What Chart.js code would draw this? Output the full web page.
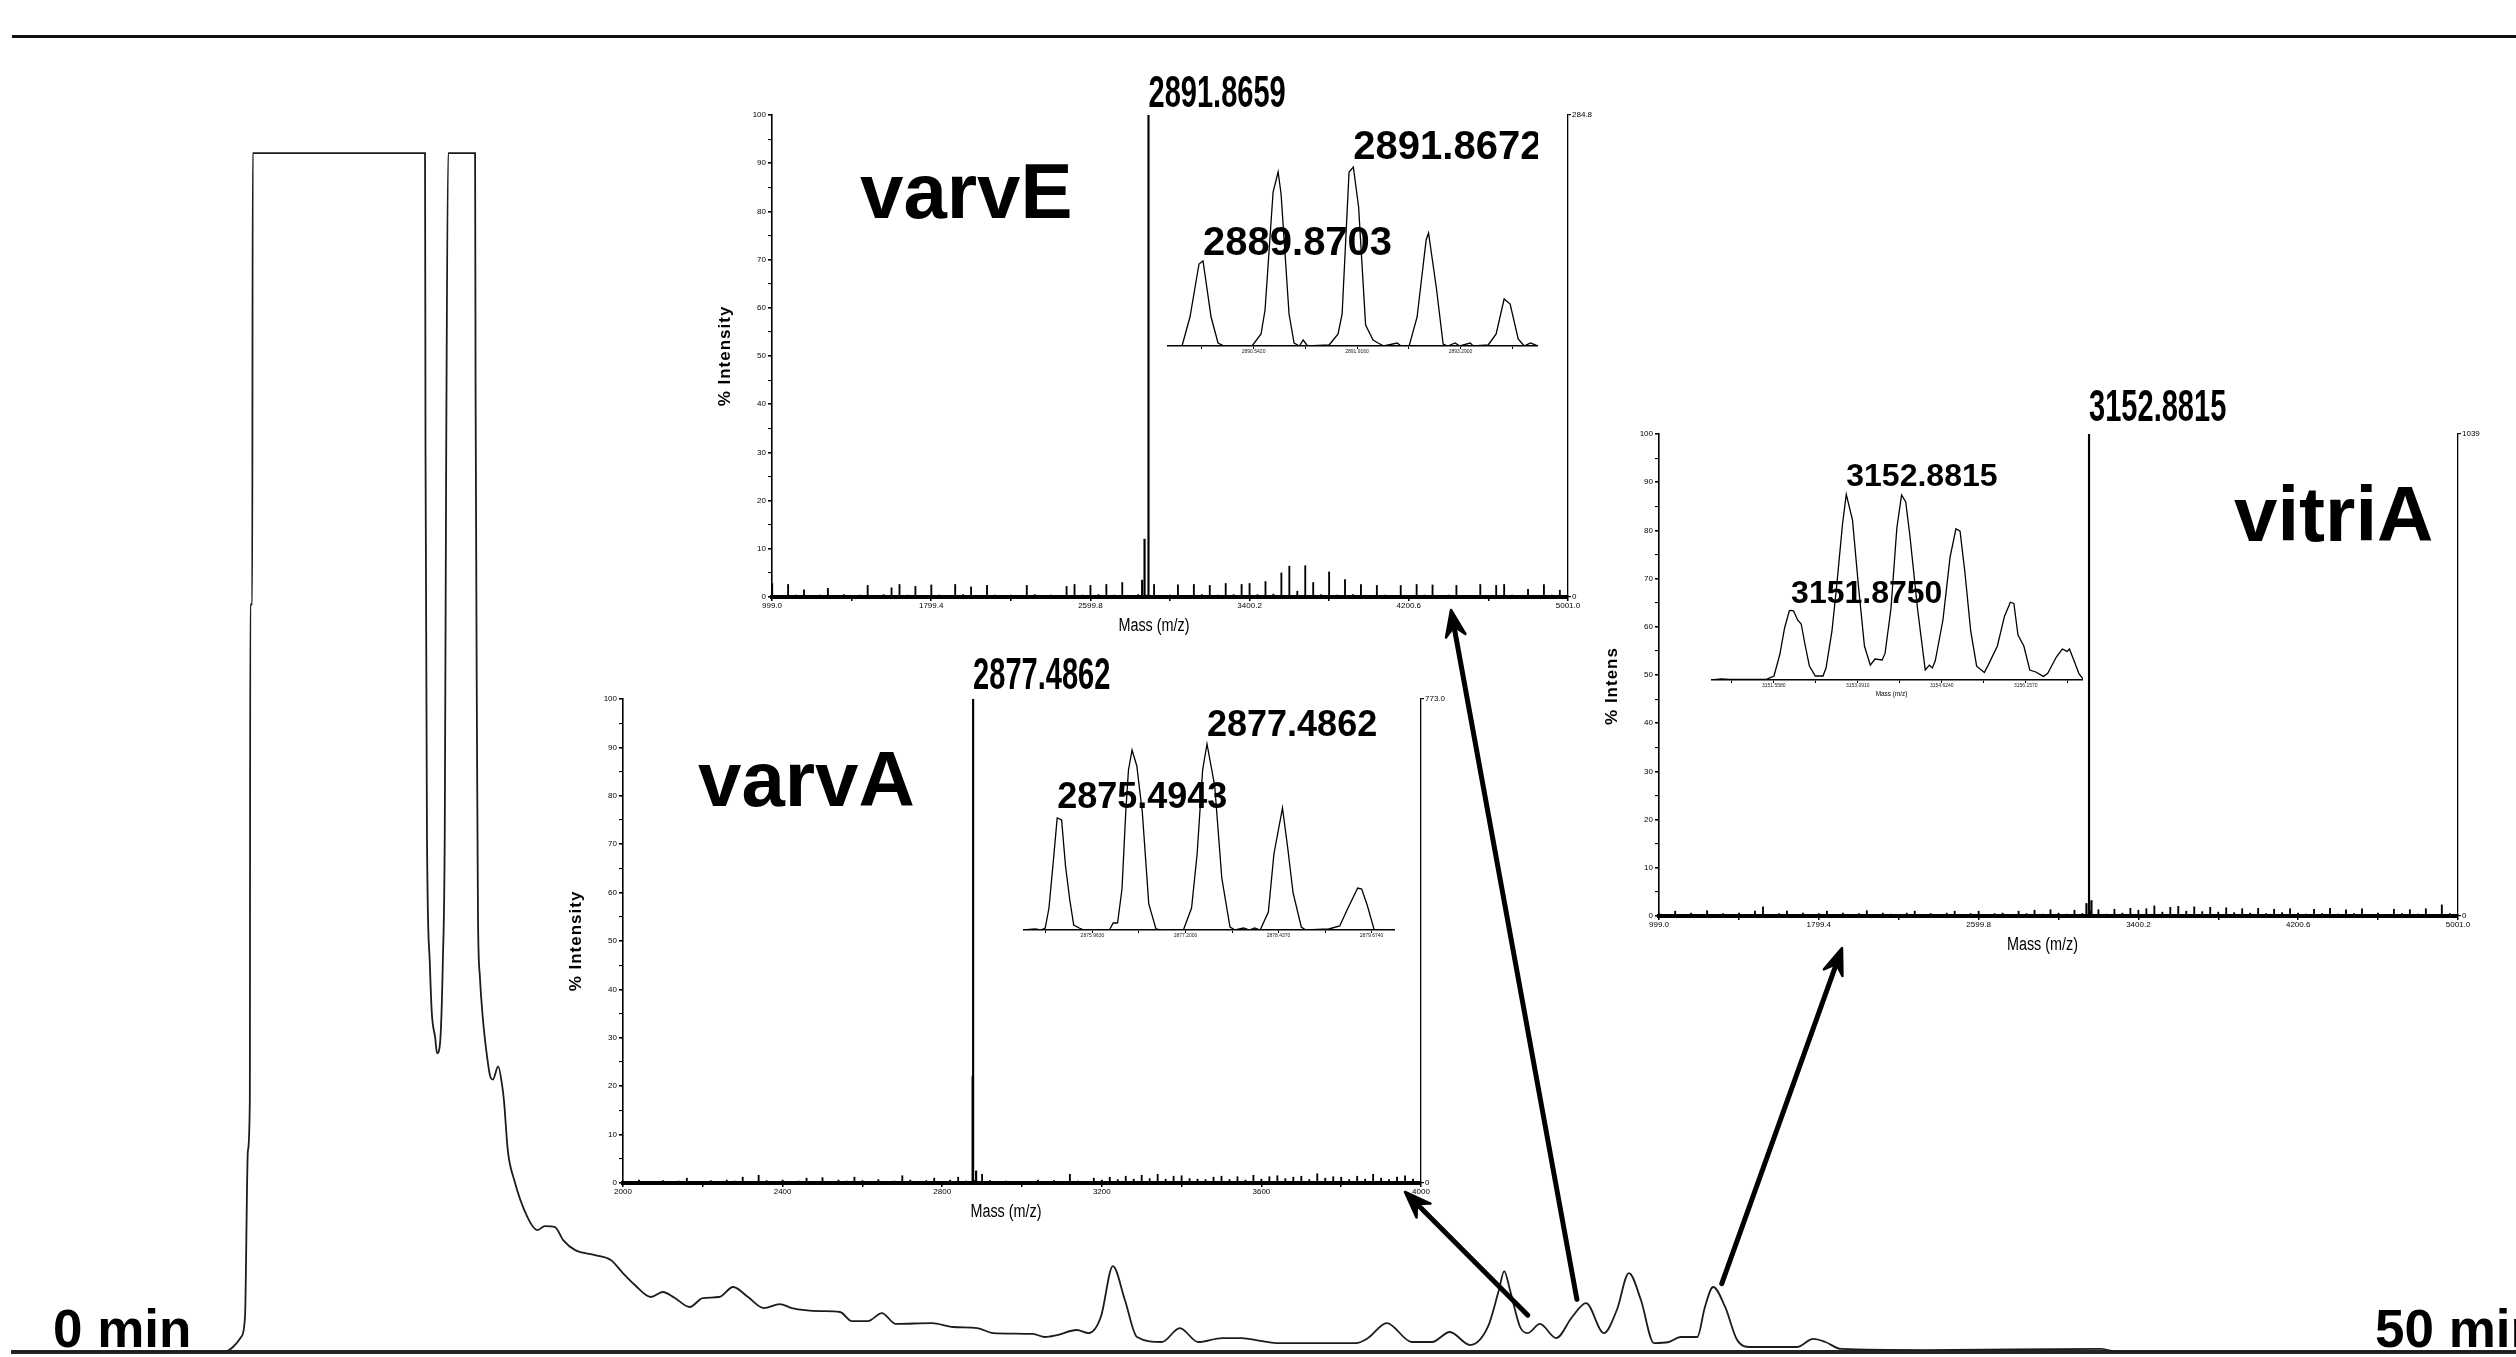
<!DOCTYPE html>
<html>
<head>
<meta charset="utf-8">
<title>HPLC trace with MALDI-TOF spectra of varvA, varvE and vitriA</title>
<script src="https://cdn.jsdelivr.net/npm/chart.js@4.4.1/dist/chart.umd.min.js"></script>
<style>
  html, body { margin: 0; padding: 0; background: #fff; overflow: hidden; }
  #stage { position: relative; width: 2516px; height: 1357px; overflow: hidden; background: #fff; }
  #stage canvas { position: absolute; }
</style>
</head>
<body>
<div id="stage"></div>
<script>
// ---------------- Chromatogram: retention time (min) / signal (% of full scale) ----------------
const chromTime = [0, 4.40, 4.57, 4.74, 4.82, 4.88, 4.92, 4.93, 4.97, 4.98,
  8.56, 8.57, 8.60, 8.66, 8.70, 8.77, 8.81, 8.87, 8.93, 8.97,
  9.00, 9.04, 9.60, 9.61, 9.64, 9.66, 9.70, 9.76, 9.85, 9.91,
  9.97, 10.08, 10.16, 10.20, 10.28, 10.41, 10.68, 10.89, 11.05, 11.26,
  11.43, 11.68, 12.09, 12.42, 12.67, 12.92, 13.25, 13.50, 13.75, 14.06,
  14.33, 14.67, 14.96, 15.27, 15.60, 15.93, 16.18, 16.77, 17.18, 17.43,
  17.76, 18.05, 18.34, 19.09, 19.53, 20.03, 20.36, 21.19, 21.44, 21.69,
  22.10, 22.35, 22.60, 22.85, 23.10, 23.35, 23.87, 24.24, 24.62, 25.12,
  25.53, 25.91, 26.24, 27.90, 28.15, 28.54, 29.06, 29.48, 29.85, 30.27,
  30.64, 30.87, 30.98, 31.10, 31.31, 31.47, 31.72, 32.06, 32.39, 32.68,
  33.05, 33.32, 33.57, 33.82, 34.09, 34.40, 34.65, 34.99, 35.15, 35.32,
  35.57, 35.82, 36.09, 37.06, 37.40, 37.65, 37.98, 39.72, 43.38, 43.71,
  52];
const chromSignal = [0, 0, 0.38, 1.14, 2.66, 15.3, 19.1, 56.8, 56.8, 91.1,
  91.1, 68.4, 39.4, 29.5, 25.8, 23.9, 22.7, 23.4, 29.7, 39.6,
  68.4, 91.1, 91.1, 73.0, 46.2, 33.1, 28.5, 25.4, 22.4, 21.0,
  20.7, 21.7, 20.3, 19.1, 15.3, 13.1, 10.3, 9.26, 9.57, 9.49,
  8.50, 7.74, 7.37, 6.99, 6.00, 5.09, 4.18, 4.56, 4.10, 3.42,
  4.10, 4.18, 4.94, 4.18, 3.34, 3.64, 3.34, 3.11, 3.04, 2.35,
  2.35, 2.96, 2.13, 2.20, 1.90, 1.82, 1.44, 1.37, 1.14, 1.29,
  1.67, 1.44, 2.66, 6.53, 3.95, 1.14, 0.76, 1.82, 0.76, 1.06,
  1.06, 0.84, 0.68, 0.68, 1.06, 2.20, 0.76, 0.76, 1.52, 0.53,
  1.90, 4.71, 6.15, 4.71, 1.90, 1.44, 2.13, 1.06, 2.66, 3.72,
  1.44, 3.19, 6.00, 3.95, 0.68, 0.76, 1.14, 1.14, 3.42, 4.94,
  3.42, 0.91, 0.38, 0.38, 0.99, 0.76, 0.23, 0.15, 0.23, 0,
  0];
const timeLabels = ['0 min', '50 min'];

// ---------------- Mass axes ----------------
const wideMassTicks = [999.0, 1399.2, 1799.4, 2199.6, 2599.8, 3000.0, 3400.2, 3800.4, 4200.6, 4600.8, 5001.0];
const varvAMassTicks = [2000, 2200, 2400, 2600, 2800, 3000, 3200, 3400, 3600, 3800, 4000];

// ---------------- varvE spectrum ----------------
const varvENoiseStart = 1000, varvENoiseStep = 40;
const varvENoise = [2.8, 0.3, 2.6, 0.4, 1.5, 0.2, 0.4, 1.8, 0.3, 0.5,
  0.3, 0.4, 2.4, 0.3, 0.5, 1.9, 2.6, 0.4, 2.2, 0.3,
  2.5, 0.4, 0.3, 2.6, 0.5, 2.1, 0.3, 2.4, 0.4, 0.3,
  0.4, 0.3, 2.4, 0.5, 0.3, 0.4, 0.3, 2.2, 2.6, 0.4,
  2.4, 0.5, 2.6, 0.4, 3.0, 0.3, 0.5, 0.4, 2.6, 0.3,
  0.4, 2.5, 0.3, 2.6, 0.5, 2.4, 0.4, 2.8, 0.5, 2.6,
  2.8, 0.5, 3.2, 0.6, 5.0, 6.4, 1.2, 6.5, 3.0, 0.5,
  5.2, 0.4, 3.6, 0.5, 2.6, 0.3, 2.4, 0.4, 0.3, 2.4,
  0.3, 2.6, 0.4, 2.5, 0.3, 0.4, 2.4, 0.3, 0.2, 2.6,
  0.3, 2.4, 2.6, 0.4, 0.3, 1.6, 0.3, 2.6, 0.4, 1.4];
const varvEPeakMz = [2860, 2872, 2891.8659];
const varvEPeakInt = [3.5, 12, 100];
const varvEIsoMz = [2889.405, 2889.591, 2889.697, 2889.817, 2889.8703, 2889.977, 2890.070, 2890.150, 2890.522, 2890.641,
  2890.694, 2890.801, 2890.868, 2890.907, 2891.013, 2891.080, 2891.150, 2891.200, 2891.260, 2891.545,
  2891.664, 2891.718, 2891.810, 2891.8672, 2891.937, 2892.030, 2892.129, 2892.196, 2892.270, 2892.450,
  2892.500, 2892.608, 2892.714, 2892.834, 2892.866, 2892.970, 2893.060, 2893.120, 2893.220, 2893.280,
  2893.420, 2893.460, 2893.658, 2893.764, 2893.870, 2893.950, 2894.057, 2894.137, 2894.220, 2894.320];
const varvEIsoInt = [0, 0, 14.5, 41, 42.5, 14.5, 1.5, 0, 0, 6,
  18, 77, 87, 76, 16, 1.5, 0, 3, 0, 0.5,
  6, 16, 87, 89.5, 69.5, 10.5, 3, 1.5, 0, 1.5,
  0, 0, 14.5, 53, 56.5, 29, 1, 0, 1.5, 0,
  1.5, 0, 0.5, 6, 23.5, 21, 3.5, 0, 1.5, 0];
const varvEIsoTicks = [2889.855, 2890.542, 2891.229, 2891.916, 2892.603, 2893.290, 2893.977];
const varvEIsoLabels = ['2891.8672', '2889.8703'];

// ---------------- varvA spectrum ----------------
const varvANoiseStart = 2000, varvANoiseStep = 20;
const varvANoise = [0.4, 0.2, 0.6, 0.2, 0.3, 0.5, 0.2, 0.4, 1.0, 0.3,
  0.2, 0.5, 0.3, 0.6, 0.4, 1.2, 0.3, 1.6, 0.5, 0.3,
  0.6, 0.2, 0.4, 1.0, 0.3, 1.1, 0.2, 0.6, 0.4, 1.2,
  0.5, 0.3, 0.7, 0.2, 0.4, 1.5, 0.6, 0.3, 0.5, 1.0,
  0.3, 0.6, 1.2, 0.4, 0.5, 1.8, 0.5, 0.2, 0.4, 0.3,
  0.3, 0.2, 0.6, 0.3, 0.5, 0.2, 1.8, 0.4, 0.2, 1.0,
  0.6, 1.2, 0.7, 1.4, 0.8, 1.6, 0.9, 1.8, 0.8, 1.4,
  1.5, 0.9, 0.8, 0.7, 1.2, 1.4, 0.7, 1.3, 0.6, 1.6,
  0.8, 1.3, 1.5, 0.9, 1.2, 1.4, 0.7, 1.9, 1.0, 1.3,
  1.2, 0.7, 1.4, 0.8, 1.8, 1.0, 0.7, 1.2, 1.5, 0.8];
const varvAPeakMz = [2876.2, 2877.4862, 2885];
const varvAPeakInt = [22, 100, 2.5];
const varvAIsoMz = [2875.053, 2875.200, 2875.276, 2875.335, 2875.385, 2875.437, 2875.4943, 2875.553, 2875.605, 2875.662,
  2875.714, 2875.787, 2875.850, 2876.188, 2876.239, 2876.297, 2876.356, 2876.406, 2876.442, 2876.490,
  2876.553, 2876.626, 2876.712, 2876.808, 2876.870, 2877.172, 2877.281, 2877.355, 2877.428, 2877.4862,
  2877.589, 2877.683, 2877.792, 2877.860, 2877.974, 2878.050, 2878.120, 2878.193, 2878.302, 2878.376,
  2878.490, 2878.558, 2878.631, 2878.740, 2878.800, 2879.106, 2879.251, 2879.361, 2879.490, 2879.543,
  2879.616, 2879.710, 2879.986];
const varvAIsoInt = [0, 0.5, 0, 1, 11, 32, 56, 55, 32, 15,
  2.5, 1, 0, 0, 3.5, 3.5, 20.5, 59, 80, 90,
  82, 59, 13, 0.5, 0, 0, 11, 38, 80, 93,
  72, 26, 1.5, 0, 1, 0, 1, 0, 9, 38,
  61, 41.5, 18.5, 1.5, 0, 0.5, 2, 11, 21, 20.5,
  12.5, 0, 0];
const varvAIsoTicks = [2875.345, 2875.963, 2876.582, 2877.200, 2877.819, 2878.437, 2879.056, 2879.674];
const varvAIsoLabels = ['2877.4862', '2875.4943'];

// ---------------- vitriA spectrum ----------------
const vitriANoiseStart = 1000, vitriANoiseStep = 40;
const vitriANoise = [0.5, 0.2, 1.0, 0.3, 0.6, 0.2, 1.1, 0.3, 0.5, 0.2,
  0.6, 0.3, 1.0, 1.9, 0.3, 0.5, 1.0, 0.2, 0.6, 0.3,
  0.5, 1.0, 0.3, 0.6, 0.2, 0.5, 1.1, 0.3, 0.6, 0.4,
  0.3, 0.6, 1.0, 0.3, 0.5, 0.2, 0.6, 1.0, 0.3, 0.5,
  1.0, 0.3, 0.5, 0.6, 0.2, 1.0, 0.5, 1.2, 0.4, 1.3,
  0.6, 0.4, 1.2, 0.5, 1.1, 1.3, 0.4, 1.4, 0.6, 1.6,
  1.2, 1.5, 2.1, 0.8, 1.8, 2.0, 1.0, 1.9, 0.9, 1.8,
  0.8, 1.7, 0.7, 1.5, 0.6, 1.6, 0.5, 1.4, 0.7, 1.5,
  0.6, 0.4, 1.4, 0.5, 1.6, 0.4, 1.3, 0.5, 1.5, 0.3,
  0.6, 0.3, 1.4, 0.5, 1.3, 0.4, 1.5, 0.3, 2.3, 0.5];
const vitriAPeakMz = [3140, 3152.8815, 3165];
const vitriAPeakInt = [2.6, 100, 3.2];
const vitriAIsoMz = [3150.432, 3150.600, 3150.750, 3150.895, 3151.110, 3151.433, 3151.563, 3151.671, 3151.756, 3151.842,
  3151.875, 3151.919, 3151.994, 3152.059, 3152.134, 3152.209, 3152.317, 3152.457, 3152.512, 3152.620,
  3152.705, 3152.813, 3152.8815, 3152.995, 3153.105, 3153.213, 3153.320, 3153.406, 3153.536, 3153.589,
  3153.696, 3153.804, 3153.891, 3153.966, 3154.041, 3154.182, 3154.322, 3154.397, 3154.452, 3154.505,
  3154.645, 3154.775, 3154.882, 3154.957, 3155.045, 3155.152, 3155.260, 3155.401, 3155.475, 3155.638,
  3155.767, 3155.875, 3155.939, 3156.014, 3156.121, 3156.229, 3156.339, 3156.477, 3156.554, 3156.714,
  3156.822, 3156.910, 3156.952, 3157.037, 3157.125, 3157.200];
const vitriAIsoInt = [0, 0.5, 0.3, 0.3, 0.3, 0.4, 2, 13, 26, 34.6,
  34.8, 34.6, 30, 28, 17, 7, 2, 2, 6, 24.4,
  46.6, 78, 92.8, 80, 46.6, 17, 7.4, 10.5, 10, 13.3,
  35.5, 76, 92.5, 89, 72.5, 35.5, 5, 7.4, 6, 9.6,
  30, 61.4, 75.6, 74.4, 54, 24.4, 6.9, 3.7, 7.7, 17,
  31.8, 38.9, 38.3, 22.5, 17, 5, 4, 1.8, 3.2, 11.5,
  15.5, 14.3, 15.5, 9.6, 3.2, 0.6];
const vitriAIsoTicks = [3150.791, 3151.558, 3152.324, 3153.091, 3153.857, 3154.624, 3155.390, 3156.157, 3156.923];
const vitriAIsoLabels = ['3152.8815', '3151.8750'];

// ---------------- drawing helpers ----------------
const FONT = '"Liberation Sans", Arial, Helvetica, sans-serif';
const NARROW = '"Liberation Sans Narrow", "Arial Narrow", "Liberation Sans", Arial, sans-serif';
const stage = document.getElementById('stage');

function addCanvas(left, top, width, height) {
  const c = document.createElement('canvas');
  c.width = width; c.height = height;
  c.style.left = left + 'px'; c.style.top = top + 'px';
  c.style.width = width + 'px'; c.style.height = height + 'px';
  stage.appendChild(c);
  return c;
}

// condensed text: regular face squeezed horizontally
function squeezedText(ctx, text, x, y, size, weight, squeeze, align) {
  ctx.save();
  ctx.translate(x, y);
  ctx.scale(squeeze, 1);
  ctx.font = weight + ' ' + size + 'px ' + FONT;
  ctx.textAlign = align || 'left';
  ctx.textBaseline = 'alphabetic';
  ctx.fillText(text, 0, 0);
  ctx.restore();
}

function drawArrow(ctx, x1, y1, x2, y2) {
  const ang = Math.atan2(y2 - y1, x2 - x1);
  const len = 28, spread = 0.36;
  ctx.save();
  ctx.strokeStyle = '#000'; ctx.fillStyle = '#000';
  ctx.lineWidth = 5; ctx.lineCap = 'round';
  ctx.beginPath();
  ctx.moveTo(x1, y1);
  ctx.lineTo(x2 - Math.cos(ang) * 12, y2 - Math.sin(ang) * 12);
  ctx.stroke();
  ctx.beginPath();
  ctx.moveTo(x2, y2);
  ctx.lineTo(x2 - len * Math.cos(ang - spread), y2 - len * Math.sin(ang - spread));
  ctx.lineTo(x2 - len * 0.6 * Math.cos(ang), y2 - len * 0.6 * Math.sin(ang));
  ctx.lineTo(x2 - len * Math.cos(ang + spread), y2 - len * Math.sin(ang + spread));
  ctx.closePath();
  ctx.fill();
  ctx.lineWidth = 2.5; ctx.lineJoin = 'round';
  ctx.stroke();
  ctx.restore();
}

const baseOptions = {
  responsive: false, animation: false, devicePixelRatio: 1, events: [],
  plugins: { legend: { display: false }, tooltip: { enabled: false } }
};

// ---------------- chromatogram ----------------
// arrows from the eluting peaks to the spectra that were recorded for them
const arrowLinks = [
  { time: 31.47, signal: 2.8, tip: [1405, 1192] },
  { time: 32.49, signal: 4.0, tip: [1451, 610] },
  { time: 35.50, signal: 5.2, tip: [1842, 948] }
];

new Chart(addCanvas(0, 0, 2516, 1357), {
  type: 'line',
  data: {
    datasets: [{
      data: chromTime.map((t, i) => ({ x: t, y: chromSignal[i] })),
      borderColor: '#1c1c1c', borderWidth: 1.8, pointRadius: 0,
      cubicInterpolationMode: 'monotone', fill: false
    }]
  },
  options: Object.assign({}, baseOptions, {
    layout: { padding: { left: 13, right: 0, top: 36, bottom: 5 } },
    scales: {
      x: {
        type: 'linear', min: 0, max: 52, position: 'bottom',
        afterFit: s => { s.height = 0; },
        ticks: { display: false }, grid: { display: false, drawTicks: false },
        border: { display: true, color: '#262626', width: 4 }
      },
      x2: {
        type: 'linear', min: 0, max: 52, position: 'top',
        afterFit: s => { s.height = 0; },
        ticks: { display: false }, grid: { display: false, drawTicks: false },
        border: { display: true, color: '#111', width: 3 }
      },
      y: { min: 0, max: 100, display: false }
    }
  }),
  plugins: [{
    id: 'runDecor',
    afterDraw(chart) {
      const { ctx, scales: { x, y } } = chart;
      ctx.save();
      ctx.fillStyle = '#000';
      ctx.font = 'bold 53px ' + FONT;
      ctx.textBaseline = 'alphabetic';
      ctx.textAlign = 'left';
      ctx.fillText(timeLabels[0], 53, 1347);
      ctx.fillText(timeLabels[1], 2375, 1347);
      ctx.restore();
      arrowLinks.forEach(a => drawArrow(ctx, x.getPixelForValue(a.time), y.getPixelForValue(a.signal), a.tip[0], a.tip[1]));
    }
  }]
});

// ---------------- full-range spectra ----------------
function spectrumChart(s) {
  const padL = 70, padR = 60, padT = 50, padB = 60;
  const a = s.area;
  const canvas = addCanvas(a.left - padL, a.top - padT, a.right - a.left + padL + padR, a.bottom - a.top + padT + padB);
  const noise = s.noise.map((v, i) => ({ x: s.noiseStart + i * s.noiseStep, y: v }));
  const peaks = s.peakMz.map((m, i) => ({ x: m, y: s.peakInt[i] }));
  const tickFont = { family: NARROW, size: 8 };
  new Chart(canvas, {
    type: 'bar',
    data: {
      datasets: [
        { data: noise, backgroundColor: '#000', barThickness: 1.2, grouped: false, borderWidth: 0 },
        { data: peaks, backgroundColor: '#000', barThickness: 1.5, grouped: false, borderWidth: 0 }
      ]
    },
    options: Object.assign({}, baseOptions, {
      layout: { padding: { top: padT, left: 0, right: 0, bottom: 0 } },
      scales: {
        x: {
          type: 'linear', min: s.ticks[0], max: s.ticks[s.ticks.length - 1], offset: false,
          afterFit: sc => { sc.height = padB; },
          afterBuildTicks: sc => { sc.ticks = s.ticks.map(v => ({ value: v })); },
          ticks: {
            autoSkip: false, maxRotation: 0, padding: 0, color: '#000', font: tickFont,
            callback: (v, i) => (i % 2 === 0 ? s.tickFormat(v) : '')
          },
          grid: { drawOnChartArea: false, drawTicks: true, tickLength: 4, color: '#000', lineWidth: 1.5, offset: false },
          border: { color: '#000', width: 4 }
        },
        y: {
          min: 0, max: 100,
          afterFit: sc => { sc.width = padL; },
          ticks: {
            stepSize: 5, autoSkip: false, padding: 2, color: '#000', font: tickFont,
            callback: v => (v % 10 === 0 ? String(v) : '')
          },
          grid: {
            drawOnChartArea: false, drawTicks: true, tickLength: 4, color: '#000',
            lineWidth: c => (c.tick && c.tick.value % 10 === 0 ? 1.6 : 1.1)
          },
          border: { color: '#000', width: 1.6 }
        },
        y2: {
          position: 'right', min: 0, max: s.absMax,
          afterFit: sc => { sc.width = padR; },
          afterBuildTicks: sc => { sc.ticks = [{ value: 0 }, { value: s.absMax }]; },
          ticks: { autoSkip: false, padding: 1, color: '#000', font: tickFont, callback: (v, i) => (i === 0 ? '0' : s.absLabel) },
          grid: { drawOnChartArea: false, drawTicks: true, tickLength: 3, color: '#000', lineWidth: 1.2 },
          border: { color: '#000', width: 1.3 }
        }
      }
    }),
    plugins: [{
      id: 'spectrumDecor',
      afterDraw(chart) {
        const { ctx, chartArea: ca, scales: { x } } = chart;
        ctx.save();
        ctx.fillStyle = '#000';
        // base-peak value above the tallest line
        const baseMz = s.peakMz[s.peakInt.indexOf(100)];
        squeezedText(ctx, baseMz.toFixed(4), x.getPixelForValue(baseMz), ca.top - s.topLift, 44, 'bold', 0.66);
        // compound name
        ctx.font = 'bold 78px ' + FONT;
        ctx.textAlign = 'left'; ctx.textBaseline = 'alphabetic';
        ctx.fillText(s.name, ca.left + s.nameAt[0], ca.top + s.nameAt[1]);
        // axis titles
        squeezedText(ctx, 'Mass (m/z)', (ca.left + ca.right) / 2 - 16, ca.bottom + 34, 18, 'normal', 0.8, 'center');
        ctx.save();
        ctx.translate(ca.left - 47, (ca.top + ca.bottom) / 2 + s.yTitleShift);
        ctx.rotate(-Math.PI / 2);
        ctx.font = 'bold 17px ' + FONT;
        ctx.letterSpacing = '1px';
        ctx.textAlign = 'center'; ctx.textBaseline = 'middle';
        ctx.fillText(s.yTitle, 0, 0);
        ctx.restore();
        ctx.restore();
      }
    }]
  });
}

// ---------------- isotope-cluster close-ups ----------------
function isotopeChart(s) {
  const padL = 5, padR = 0, padT = 60, padB = s.bottomPad;
  const canvas = addCanvas(s.left - padL, s.top - padT, s.right - s.left + padL + padR, s.baseline - s.top + padT + padB);
  new Chart(canvas, {
    type: 'line',
    data: {
      datasets: [{
        data: s.mz.map((m, i) => ({ x: m, y: s.int[i] })),
        borderColor: '#000', borderWidth: 1.3, pointRadius: 0, tension: 0, fill: false
      }]
    },
    options: Object.assign({}, baseOptions, {
      layout: { padding: { top: padT, left: padL, right: padR, bottom: 0 } },
      scales: {
        x: {
          type: 'linear', min: s.mz[0], max: s.mz[s.mz.length - 1],
          afterFit: sc => { sc.height = padB; },
          afterBuildTicks: sc => { sc.ticks = s.ticks.map(v => ({ value: v })); },
          ticks: {
            autoSkip: false, maxRotation: 0, padding: 0, color: '#222', font: { family: NARROW, size: 5 },
            callback: (v, i) => (i % 2 === 1 ? v.toFixed(4) : '')
          },
          grid: { drawOnChartArea: false, drawTicks: true, tickLength: 3, color: '#000', lineWidth: 1 },
          border: { color: '#000', width: 1.6 }
        },
        y: { min: 0, max: 100, display: false }
      }
    }),
    plugins: [{
      id: 'isotopeDecor',
      afterDatasetsDraw(chart) {
        const { ctx, chartArea: ca, scales: { x, y } } = chart;
        ctx.save();
        ctx.fillStyle = '#000';
        ctx.font = 'bold ' + s.labelSize + 'px ' + FONT;
        ctx.textAlign = 'left'; ctx.textBaseline = 'alphabetic';
        s.labels.forEach((txt, k) => {
          const mz = Number(txt);
          const idx = s.mz.findIndex(m => Math.abs(m - mz) < 1e-6);
          ctx.fillText(txt, x.getPixelForValue(mz), y.getPixelForValue(s.int[idx]) - s.lifts[k]);
        });
        if (s.title) {
          squeezedText(ctx, s.title, (ca.left + ca.right) / 2 - 6, ca.bottom + 16, 8, 'normal', 0.8, 'center');
        }
        ctx.restore();
      }
    }]
  });
}

spectrumChart({
  area: { left: 772, top: 115, right: 1568, bottom: 597 },
  noise: varvENoise, noiseStart: varvENoiseStart, noiseStep: varvENoiseStep,
  peakMz: varvEPeakMz, peakInt: varvEPeakInt,
  ticks: wideMassTicks, tickFormat: v => v.toFixed(1),
  absMax: 284.8, absLabel: '284.8',
  name: 'varvE', nameAt: [88, 103], topLift: 8,
  yTitle: '% Intensity', yTitleShift: 0
});
spectrumChart({
  area: { left: 623, top: 699, right: 1421, bottom: 1183 },
  noise: varvANoise, noiseStart: varvANoiseStart, noiseStep: varvANoiseStep,
  peakMz: varvAPeakMz, peakInt: varvAPeakInt,
  ticks: varvAMassTicks, tickFormat: v => String(v),
  absMax: 773.0, absLabel: '773.0',
  name: 'varvA', nameAt: [75, 107], topLift: 10,
  yTitle: '% Intensity', yTitleShift: 0
});
spectrumChart({
  area: { left: 1659, top: 434, right: 2458, bottom: 916 },
  noise: vitriANoise, noiseStart: vitriANoiseStart, noiseStep: vitriANoiseStep,
  peakMz: vitriAPeakMz, peakInt: vitriAPeakInt,
  ticks: wideMassTicks, tickFormat: v => v.toFixed(1),
  absMax: 1039, absLabel: '1039',
  name: 'vitriA', nameAt: [575, 107], topLift: 13,
  yTitle: '% Intens', yTitleShift: 11
});

isotopeChart({
  left: 1168, right: 1538, top: 146, baseline: 346, bottomPad: 20,
  mz: varvEIsoMz, int: varvEIsoInt, ticks: varvEIsoTicks,
  labels: varvEIsoLabels, lifts: [8, 6], labelSize: 40
});
isotopeChart({
  left: 1024, right: 1395, top: 730, baseline: 930, bottomPad: 20,
  mz: varvAIsoMz, int: varvAIsoInt, ticks: varvAIsoTicks,
  labels: varvAIsoLabels, lifts: [8, 10], labelSize: 36
});
isotopeChart({
  left: 1712, right: 2083, top: 480, baseline: 680, bottomPad: 26,
  mz: vitriAIsoMz, int: vitriAIsoInt, ticks: vitriAIsoTicks,
  labels: vitriAIsoLabels, lifts: [8, 7], labelSize: 32, title: 'Mass (m/z)'
});
</script>
</body>
</html>
